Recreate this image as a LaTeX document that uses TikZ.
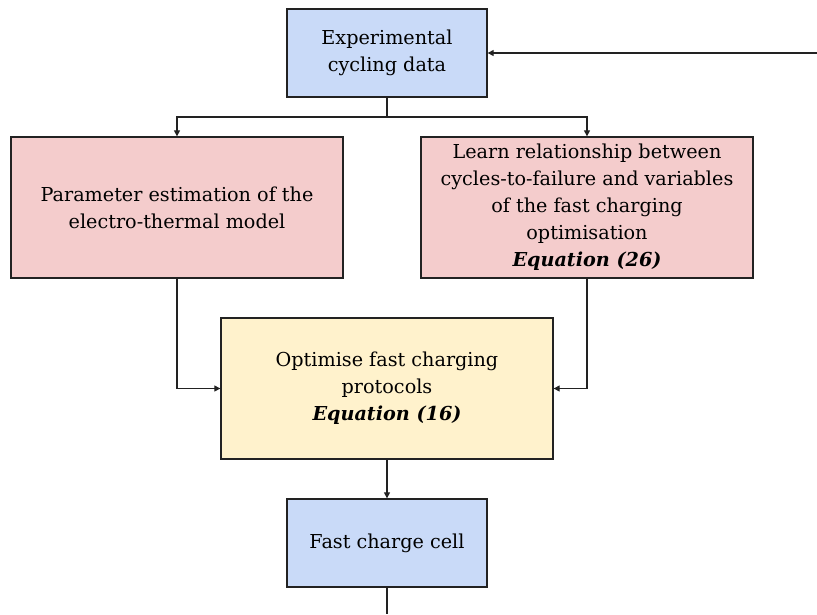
\documentclass[tikz,border=0pt]{standalone}
\usepackage{fontspec}
\setmainfont{DejaVu Serif}
\usetikzlibrary{arrows.meta}
\definecolor{bluefill}{HTML}{C9DAF8}
\definecolor{pinkfill}{HTML}{F4CCCC}
\definecolor{yellowfill}{HTML}{FFF2CC}
\definecolor{edge}{HTML}{222222}
\begin{document}
\begin{tikzpicture}[x=1pt,y=-1pt,
  box/.style={draw=edge, line width=1.3pt, rectangle, inner sep=0pt, align=center,
    font=\fontsize{19.2}{27}\selectfont, text=black},
  bluebox/.style={box, fill=bluefill, minimum width=200pt, minimum height=88pt},
  pinkbox/.style={box, fill=pinkfill, minimum width=332pt, minimum height=141pt},
  yellowbox/.style={box, fill=yellowfill, minimum width=332pt, minimum height=141pt},
  conn/.style={draw=edge, line width=1.1pt},
  arr/.style={conn, -{Triangle[length=6pt,width=6pt]}}]
\useasboundingbox (0,0) rectangle (817,614);
\node[bluebox] (exp) at (387,53) {Experimental\\cycling data};
\node[pinkbox] (param) at (177,207.5) {Parameter estimation of the\\electro-thermal model};
\node[pinkbox] (learn) at (587,207.5) {Learn relationship between\\cycles-to-failure and variables\\of the fast charging\\optimisation\\\textbf{\textit{Equation (26)}}};
\node[yellowbox] (opt) at (387,388.5) {Optimise fast charging\\protocols\\\textbf{\textit{Equation (16)}}};
\node[bluebox] (cell) at (387,543) {Fast charge cell};
\coordinate (fb) at (817,53);
\coordinate (out) at (387,614);
\coordinate (split) at (387,117);
\draw[arr] (fb) -- (exp.east);
\draw[conn] (exp.south) -- (split);
\draw[arr] (split) -| (param.north);
\draw[arr] (split) -| (learn.north);
\draw[arr] (param.south) |- (opt.west);
\draw[arr] (learn.south) |- (opt.east);
\draw[arr] (opt.south) -- (cell.north);
\draw[conn] (cell.south) -- (out);
\end{tikzpicture}
\end{document}
